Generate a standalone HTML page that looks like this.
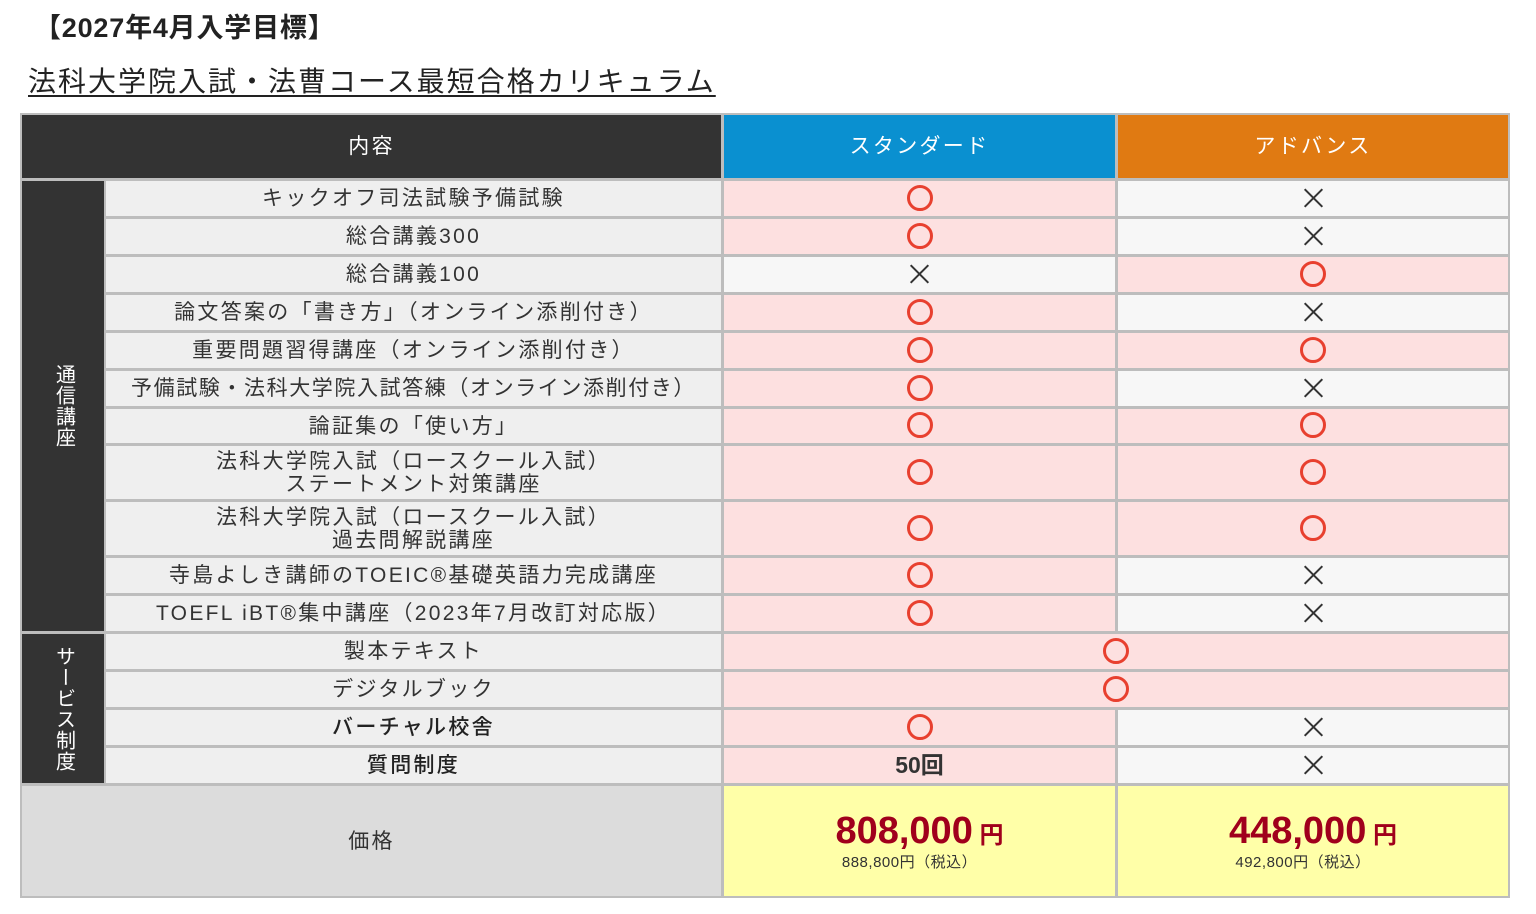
<!DOCTYPE html><html><head><meta charset="utf-8"><style>
body{margin:0;width:1536px;height:914px;background:#fff;position:relative;overflow:hidden;font-family:"Liberation Sans","Noto Sans CJK JP",sans-serif;color:#333}
.t{position:absolute;white-space:nowrap}
#tb{position:absolute;left:20px;top:113px;width:1490px;height:785px;background:#bdbdbd}
.c{position:absolute;display:flex;align-items:center;justify-content:center;box-sizing:border-box;font-size:21px;line-height:23px;text-align:center;letter-spacing:2.3px}
.n{background:#efefef}
.p{background:#fde0e0}
.w{background:#f7f7f7}
.o{width:26px;height:26px;border:3.5px solid #e8402f;border-radius:50%;box-sizing:border-box;display:block;margin-top:-2px}
.x::before,.x::after{content:"";position:absolute;left:50%;top:50%;width:25px;height:2px;background:#333;margin-left:-12.5px;margin-top:-2px;transform:rotate(45deg)}
.x::after{transform:rotate(-45deg)}
.v{writing-mode:vertical-rl;color:#fff;font-size:20px;letter-spacing:1px;background:#333}
</style></head><body>
<div class="t" style="left:34px;top:6px;font-size:27px;font-weight:bold;color:#222;letter-spacing:0.8px">【2027年4月入学目標】</div>
<div class="t" style="left:28px;top:60px;font-size:28px;color:#222;text-decoration:underline;text-underline-offset:4px;letter-spacing:2px">法科大学院入試・法曹コース最短合格カリキュラム</div>
<div id="tb"></div>
<div class="c" style="left:22px;top:115px;width:699px;height:63px;background:#333;color:#fff">内容</div>
<div class="c" style="left:724px;top:115px;width:391px;height:63px;background:#0a90d0;color:#fff">スタンダード</div>
<div class="c" style="left:1118px;top:115px;width:390px;height:63px;background:#e07a12;color:#fff">アドバンス</div>
<div class="c v" style="left:22px;top:181px;width:82px;height:450px">通信講座</div>
<div class="c v" style="left:22px;top:634px;width:82px;height:149px">サービス制度</div>

<div class="c n" style="left:106px;top:181px;width:615px;height:35px">キックオフ司法試験予備試験</div>
<div class="c p" style="left:724px;top:181px;width:391px;height:35px"><span class="o"></span></div>
<div class="c w x" style="left:1118px;top:181px;width:390px;height:35px"></div>

<div class="c n" style="left:106px;top:219px;width:615px;height:35px">総合講義300</div>
<div class="c p" style="left:724px;top:219px;width:391px;height:35px"><span class="o"></span></div>
<div class="c w x" style="left:1118px;top:219px;width:390px;height:35px"></div>

<div class="c n" style="left:106px;top:257px;width:615px;height:35px">総合講義100</div>
<div class="c w x" style="left:724px;top:257px;width:391px;height:35px"></div>
<div class="c p" style="left:1118px;top:257px;width:390px;height:35px"><span class="o"></span></div>

<div class="c n" style="left:106px;top:295px;width:615px;height:35px">論文答案の「書き方」（オンライン添削付き）</div>
<div class="c p" style="left:724px;top:295px;width:391px;height:35px"><span class="o"></span></div>
<div class="c w x" style="left:1118px;top:295px;width:390px;height:35px"></div>

<div class="c n" style="left:106px;top:333px;width:615px;height:35px">重要問題習得講座（オンライン添削付き）</div>
<div class="c p" style="left:724px;top:333px;width:391px;height:35px"><span class="o"></span></div>
<div class="c p" style="left:1118px;top:333px;width:390px;height:35px"><span class="o"></span></div>

<div class="c n" style="left:106px;top:371px;width:615px;height:35px;letter-spacing:1.6px">予備試験・法科大学院入試答練（オンライン添削付き）</div>
<div class="c p" style="left:724px;top:371px;width:391px;height:35px"><span class="o"></span></div>
<div class="c w x" style="left:1118px;top:371px;width:390px;height:35px"></div>

<div class="c n" style="left:106px;top:409px;width:615px;height:34px">論証集の「使い方」</div>
<div class="c p" style="left:724px;top:409px;width:391px;height:34px"><span class="o"></span></div>
<div class="c p" style="left:1118px;top:409px;width:390px;height:34px"><span class="o"></span></div>

<div class="c n" style="left:106px;top:446px;width:615px;height:53px">法科大学院入試（ロースクール入試）<br>ステートメント対策講座</div>
<div class="c p" style="left:724px;top:446px;width:391px;height:53px"><span class="o"></span></div>
<div class="c p" style="left:1118px;top:446px;width:390px;height:53px"><span class="o"></span></div>

<div class="c n" style="left:106px;top:502px;width:615px;height:53px">法科大学院入試（ロースクール入試）<br>過去問解説講座</div>
<div class="c p" style="left:724px;top:502px;width:391px;height:53px"><span class="o"></span></div>
<div class="c p" style="left:1118px;top:502px;width:390px;height:53px"><span class="o"></span></div>

<div class="c n" style="left:106px;top:558px;width:615px;height:35px">寺島よしき講師のTOEIC®基礎英語力完成講座</div>
<div class="c p" style="left:724px;top:558px;width:391px;height:35px"><span class="o"></span></div>
<div class="c w x" style="left:1118px;top:558px;width:390px;height:35px"></div>

<div class="c n" style="left:106px;top:596px;width:615px;height:35px">TOEFL iBT®集中講座（2023年7月改訂対応版）</div>
<div class="c p" style="left:724px;top:596px;width:391px;height:35px"><span class="o"></span></div>
<div class="c w x" style="left:1118px;top:596px;width:390px;height:35px"></div>

<div class="c n" style="left:106px;top:634px;width:615px;height:35px">製本テキスト</div>
<div class="c p" style="left:724px;top:634px;width:784px;height:35px"><span class="o"></span></div>

<div class="c n" style="left:106px;top:672px;width:615px;height:35px">デジタルブック</div>
<div class="c p" style="left:724px;top:672px;width:784px;height:35px"><span class="o"></span></div>

<div class="c n" style="left:106px;top:710px;width:615px;height:35px;font-weight:500;color:#222">バーチャル校舎</div>
<div class="c p" style="left:724px;top:710px;width:391px;height:35px"><span class="o"></span></div>
<div class="c w x" style="left:1118px;top:710px;width:390px;height:35px"></div>

<div class="c n" style="left:106px;top:748px;width:615px;height:35px;font-weight:500;color:#222">質問制度</div>
<div class="c p" style="left:724px;top:748px;width:391px;height:35px;font-weight:bold;font-size:23px;letter-spacing:0">50回</div>
<div class="c w x" style="left:1118px;top:748px;width:390px;height:35px"></div>

<div class="c" style="left:22px;top:786px;width:699px;height:110px;background:#dcdcdc">価格</div>
<div class="c" style="left:724px;top:786px;width:391px;height:110px;background:#ffffa8;flex-direction:column;letter-spacing:0">
<div style="color:#a0001c;font-weight:bold;font-size:38px;line-height:38px;margin-top:0px">808,000<span style="font-size:24px"> 円</span></div>
<div style="font-size:15px;line-height:16px;margin-left:-20px;letter-spacing:0.5px">888,800円（税込）</div></div>
<div class="c" style="left:1118px;top:786px;width:390px;height:110px;background:#ffffa8;flex-direction:column;letter-spacing:0">
<div style="color:#a0001c;font-weight:bold;font-size:38px;line-height:38px;margin-top:0px">448,000<span style="font-size:24px"> 円</span></div>
<div style="font-size:15px;line-height:16px;margin-left:-20px;letter-spacing:0.5px">492,800円（税込）</div></div>
</body></html>
